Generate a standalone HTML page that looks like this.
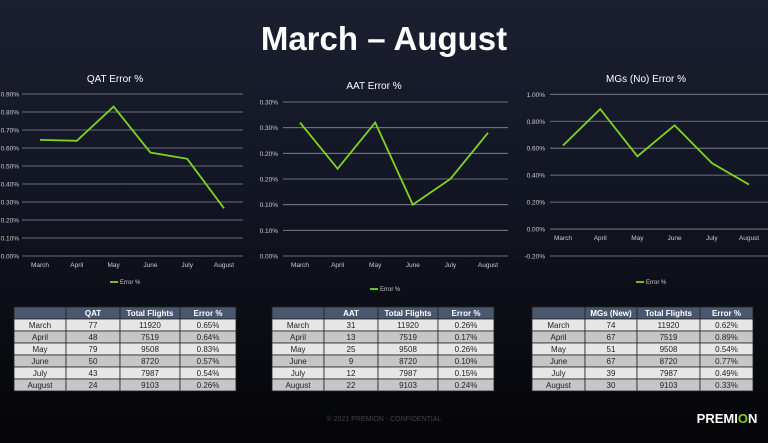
<!DOCTYPE html>
<html><head><meta charset="utf-8"><style>
body{margin:0;width:768px;height:443px;overflow:hidden;background:linear-gradient(#1b1f30 0%,#121522 45%,#050507 100%);font-family:"Liberation Sans",sans-serif;}
svg{position:absolute;left:0;top:0}
</style></head><body>
<svg id="s" width="768" height="443">
<text x="384" y="50" text-anchor="middle" fill="#fff" font-size="33" font-weight="bold">March – August</text>
<text x="384" y="421" text-anchor="middle" fill="#444" font-size="7">© 2021 PREMION - CONFIDENTIAL</text>
<text x="727" y="423" text-anchor="middle" fill="#fff" font-size="13" font-weight="bold">PREMI<tspan fill="#7ed321">O</tspan>N</text>
</svg>
<script>
const months=["March","April","May","June","July","August"];
const qatErr=[0.645,0.64,0.83,0.575,0.54,0.265];
const aatErr=[0.26,0.17,0.26,0.10,0.15,0.24];
const mgErr=[0.62,0.89,0.54,0.77,0.49,0.33];
const qatTicks=["0.00%","0.10%","0.20%","0.30%","0.40%","0.50%","0.60%","0.70%","0.80%","0.90%"];
const aatTicks=["0.00%","0.10%","0.10%","0.20%","0.20%","0.30%","0.30%"];
const mgTicks=["-0.20%","0.00%","0.20%","0.40%","0.60%","0.80%","1.00%"];
const qatCounts=[77,48,79,50,43,24];
const aatCounts=[31,13,25,9,12,22];
const mgCounts=[74,67,51,67,39,30];
const flights=[11920,7519,9508,8720,7987,9103];
const S=document.getElementById('s');const NS="http://www.w3.org/2000/svg";
function mk(t,a,p){const e=document.createElementNS(NS,t);for(const k in a)e.setAttribute(k,a[k]);(p||S).appendChild(e);return e;}
function chart(o){
 const g=mk('g',{});
 
 
 const t=mk('text',{x:o.tx,y:o.ty,'text-anchor':'middle',fill:'#fff','font-size':10},g);t.textContent=o.title;
 
 
 const n=o.ticks.length-1;
 const y=v=>o.y0-(v-o.vmin)/(o.vmax-o.vmin)*(o.y0-o.y1);
 const step=(o.vmax-o.vmin)/n;
 o.ticks.forEach((lb,i)=>{const v=o.vmin+i*step;const yy=y(v);
  const l=mk('line',{x1:o.px0,x2:o.px1,y1:yy,y2:yy,stroke:'#8a8d96','stroke-width':0.8},g);
  
  
  const tx=mk('text',{x:o.lx,y:yy+2.5,fill:'#ccc','font-size':6.5,'text-anchor':'end'},g);tx.textContent=lb;
  
  });
 const x=i=>o.cx0+i*(o.cx1-o.cx0)/(months.length-1);
 months.forEach((m,i)=>{const tx=mk('text',{x:x(i),y:o.ly,fill:'#ccc','font-size':6.5,'text-anchor':'middle'},g);tx.textContent=m;
  
  });
 const pl=mk('polyline',{points:o.vals.map((v,i)=>x(i)+','+y(v)).join(' '),fill:'none',stroke:'#7ed321','stroke-width':1.8},g);
 
 
 const lg=mk('line',{x1:o.legx-14,x2:o.legx-6,y1:o.legy,y2:o.legy,stroke:'#7ed321','stroke-width':1.8},g);
 
 
 const lt=mk('text',{x:o.legx-4,y:o.legy+2,fill:'#ccc','font-size':6},g);lt.textContent='Error %';
 
 
}
chart({name:'qat-chart',title:'QAT Error %',tx:115,ty:82,ticks:qatTicks,vmin:0,vmax:0.9,y0:256,y1:94,px0:22,px1:243,lx:19,cx0:40,cx1:224,ly:267,vals:qatErr,legx:124,legy:282});
chart({name:'aat-chart',title:'AAT Error %',tx:374,ty:89,ticks:aatTicks,vmin:0,vmax:0.3,y0:256,y1:102,px0:283,px1:508,lx:278,cx0:300,cx1:488,ly:267,vals:aatErr,legx:384,legy:289});
chart({name:'mgs-chart',title:'MGs (No) Error %',tx:646,ty:82,ticks:mgTicks,vmin:-0.2,vmax:1.0,y0:256,y1:94.3,px0:550,px1:768,lx:545,cx0:563,cx1:749,ly:240,vals:mgErr,legx:650,legy:282});
function table(name,x0,widths,head,counts,errs){
 const g=mk('g',{});
 
 
 const rh=12,y0=307;let cx=[x0];widths.forEach(w=>cx.push(cx[cx.length-1]+w));
 const rows=[head].concat(months.map((m,i)=>[m,counts[i],flights[i],errs[i].toFixed(2)+'%']));
 rows.forEach((r,ri)=>{const yy=y0+ri*rh;
  r.forEach((c,ci)=>{mk('rect',{x:cx[ci],y:yy,width:widths[ci],height:rh,fill:ri==0?'#4b576e':(ri%2?'#e6e6e6':'#c6c6c6'),stroke:'#222',"stroke-width":0.8},g);
   const t=mk('text',{x:cx[ci]+widths[ci]/2,y:yy+9,'text-anchor':'middle','font-size':8,fill:ri==0?'#fff':'#222','font-weight':ri==0?'bold':'normal'},g);t.textContent=c;
   
   });});
}
table('qat-table',14,[52,54,60,56],['','QAT','Total Flights','Error %'],qatCounts,qatErr.map((v,i)=>[0.65,0.64,0.83,0.57,0.54,0.26][i]));
table('aat-table',272,[52,54,60,56],['','AAT','Total Flights','Error %'],aatCounts,aatErr);
table('mgs-table',532,[53,52,63,53],['','MGs (New)','Total Flights','Error %'],mgCounts,mgErr);
</script>
</body></html>
